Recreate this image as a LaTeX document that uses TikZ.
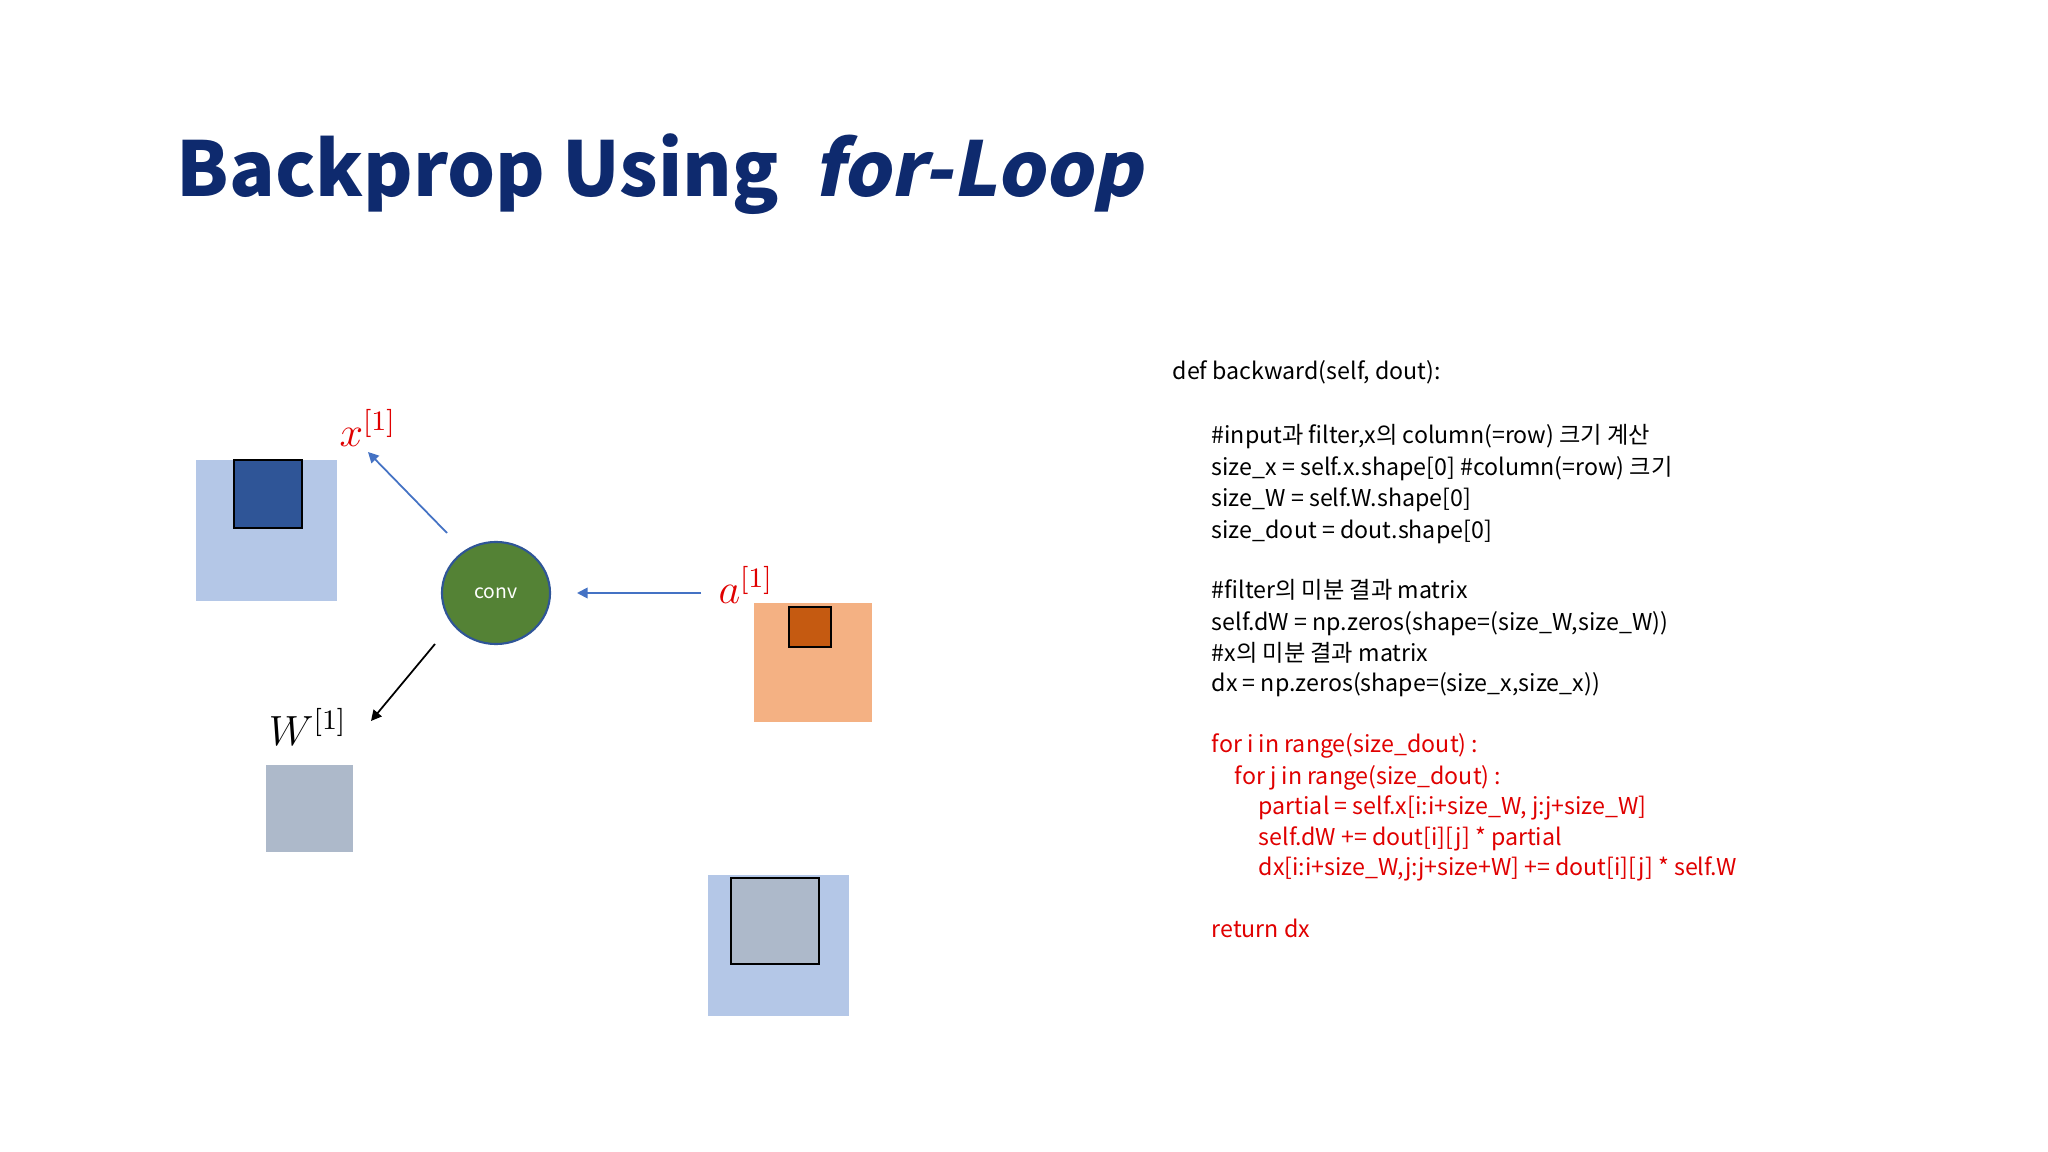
\documentclass[tikz,border=0pt]{standalone}
\usepackage{fontspec}
\setmainfont{Noto Sans CJK KR}
\newfontfamily\titlefont{Noto Sans CJK KR}
\newfontfamily\titleslant[FakeSlant=0.2]{Noto Sans CJK KR}
\usetikzlibrary{arrows.meta,shapes.geometric}
\definecolor{navy}{HTML}{0E2A6E}
\definecolor{lblue}{HTML}{B4C7E7}
\definecolor{dblue}{HTML}{2F5597}
\definecolor{lorange}{HTML}{F4B183}
\definecolor{dorange}{HTML}{C55A11}
\definecolor{gray1}{HTML}{ADB9CA}
\definecolor{cgreen}{HTML}{548235}
\definecolor{arrblue}{HTML}{4472C4}
\definecolor{cred}{HTML}{E00000}
\tikzset{
 code/.style={anchor=base west,inner sep=0pt,font=\fontsize{6.6}{8}\selectfont},
 rcode/.style={code,text=cred},
 lab/.style={inner sep=0pt,font=\fontsize{12}{14}\selectfont},
 barr/.style={draw=arrblue,line width=0.5pt,-{Triangle[length=3pt,width=3pt]}},
 karr/.style={draw=black,line width=0.5pt,-{Triangle[length=3pt,width=3pt]}},
}
\begin{document}
\begin{tikzpicture}[x=0.01cm,y=-0.01cm]
\useasboundingbox[fill=white] (0,0) rectangle (2048,1152);
\node[anchor=base west,inner sep=0pt,text=navy,font=\fontsize{21.5}{26}\selectfont\bfseries] (title) at (176,197) {\titlefont Backprop Using \ {\titleslant for-Loop}};
% x
\fill[lblue] (196,460) rectangle (337,601);
\draw[fill=dblue,line width=0.7pt] (234,460) rectangle (302,528);
\node[lab,text=cred] (xl) at (368,428) {$x^{[1]}$};
% conv
\node[ellipse,draw=dblue,fill=cgreen,minimum width=1.08cm,minimum height=1.02cm,inner sep=0pt,text=white,font=\fontsize{5.5}{6}\selectfont,line width=0.6pt] (conv) at (496,593) {conv};
\coordinate (xs) at (447,533); \coordinate (xe) at (368,452);
\draw[barr] (xs) -- (xe);
\coordinate (as) at (701,593); \coordinate (ae) at (577,593);
\draw[barr] (as) -- (ae);
\node[lab,text=cred] (al) at (746,585) {$a^{[1]}$};
\fill[lorange] (754,603) rectangle (872,722);
\draw[fill=dorange,line width=0.7pt] (789,607) rectangle (831,647);
\coordinate (ws) at (435,644); \coordinate (we) at (371,721);
\draw[karr] (ws) -- (we);
\node[lab] (wl) at (308,727) {$W^{[1]}$};
\fill[gray1] (266,765) rectangle (353,852);
\fill[lblue] (708,875) rectangle (849,1016);
\draw[fill=gray1,line width=0.7pt] (731,878) rectangle (819,964);
% code
\node[code] (c1) at (1172,380) {def backward(self, dout):};
\node[code] (c2) at (1211,444) {\#input과 filter,x의 column(=row) 크기 계산};
\node[code] (c3) at (1211,476) {size\_x = self.x.shape[0] \#column(=row) 크기};
\node[code] (c4) at (1211,507) {size\_W = self.W.shape[0]};
\node[code] (c5) at (1211,538) {size\_dout = dout.shape[0]};
\node[code] (c6) at (1211,598) {\#filter의 미분 결과 matrix};
\node[code] (c7) at (1211,630) {self.dW = np.zeros(shape=(size\_W,size\_W))};
\node[code] (c8) at (1211,661) {\#x의 미분 결과 matrix};
\node[code] (c9) at (1211,691) {dx = np.zeros(shape=(size\_x,size\_x))};
\node[rcode] (r1) at (1211,752) {for i in range(size\_dout) :};
\node[rcode] (r2) at (1234,784) {for j in range(size\_dout) :};
\node[rcode] (r3) at (1258,814) {partial = self.x[i:i+size\_W, j:j+size\_W]};
\node[rcode] (r4) at (1258,845) {self.dW += dout[i][j] * partial};
\node[rcode] (r5) at (1258,875) {dx[i:i+size\_W,j:j+size+W] += dout[i][j] * self.W};
\node[rcode] (r6) at (1211,937) {return dx};
\end{tikzpicture}
\end{document}
